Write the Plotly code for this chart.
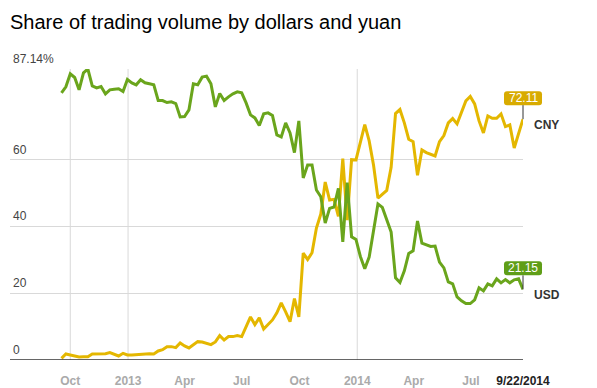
import pandas as pd
import plotly.graph_objects as go

TITLE = "Share of trading volume by dollars and yuan"

# weekly observations, 2012-09-17 .. 2014-09-22
dates = pd.date_range("2012-09-17", periods=106, freq="7D")

usd = [80.0, 81.8, 85.7, 84.6, 80.9, 86.0, 87.14, 82.1, 81.5, 81.9,
       79.7, 80.9, 81.1, 81.2, 80.4, 84.0, 83.0, 82.4, 83.9, 83.0,
       82.7, 82.4, 77.7, 77.7, 77.1, 77.3, 76.8, 72.8, 72.9, 74.9,
       82.7, 82.4, 84.7, 85.0, 82.7, 75.8, 79.8, 77.7, 78.8, 79.7,
       80.3, 80.0, 77.0, 73.4, 72.5, 70.2, 73.7, 74.0, 73.2, 67.4,
       66.8, 71.0, 68.0, 62.1, 71.6, 54.5, 58.4, 58.4, 50.9, 48.9,
       41.0, 45.4, 45.8, 51.4, 35.4, 53.1, 36.9, 36.1, 31.0, 27.3,
       30.8, 38.3, 46.7, 45.7, 42.1, 38.3, 24.6, 23.2, 26.7, 31.9,
       32.7, 41.6, 35.0, 34.4, 34.0, 34.1, 29.3, 27.6, 23.4, 22.8,
       18.9, 17.7, 16.9, 16.9, 18.0, 21.6, 20.7, 22.8, 22.2, 24.3,
       23.1, 24.1, 23.1, 24.0, 24.3, 21.15]

cny = [0.5, 1.8, 1.5, 1.3, 0.9, 1.0, 1.0, 1.8, 1.8, 1.8,
       1.9, 2.2, 1.8, 1.2, 2.0, 1.5, 1.5, 1.6, 1.8, 1.9,
       1.9, 1.8, 2.7, 3.1, 4.0, 4.0, 3.7, 5.1, 4.2, 3.6,
       4.5, 5.5, 5.4, 5.0, 4.6, 5.4, 7.3, 6.0, 7.0, 7.0,
       7.3, 7.0, 10.2, 12.9, 10.6, 12.6, 9.3, 10.8, 12.0, 14.1,
       17.1, 14.4, 11.5, 18.4, 12.9, 32.0, 30.1, 32.1, 39.5, 43.7,
       53.3, 47.9, 48.1, 43.0, 60.3, 41.9, 60.0, 59.9, 65.3, 70.5,
       65.6, 58.3, 48.5, 49.7, 50.8, 57.7, 73.8, 75.0, 71.0, 66.1,
       65.4, 55.3, 62.9, 62.1, 61.7, 61.1, 65.4, 67.2, 71.0, 72.3,
       70.7, 74.3, 77.6, 78.9, 76.7, 71.6, 68.0, 73.1, 72.4, 72.4,
       73.7, 69.9, 70.4, 63.5, 67.8, 72.11]

series_names = ["CNY", "USD"]

x_tick_vals = ["2012-10-01", "2013-01-01", "2013-04-01", "2013-07-01", "2013-10-01",
               "2014-01-01", "2014-04-01", "2014-07-01", "2014-09-22"]
x_tick_text = ["Oct", "2013", "Apr", "Jul", "Oct", "2014", "Apr", "Jul", "9/22/2014"]
vgrid_dates = ["2012-10-01", "2013-01-01", "2014-01-01"]

y_tick_vals = [0, 20, 40, 60, 87.14]
y_tick_text = ["0", "20", "40", "60", "87.14%"]

X_RANGE = ["2012-06-27", "2014-09-22"]
Y_RANGE = [0, 87.14]

FONT = "Liberation Sans, Arial, sans-serif"
YELLOW = "#e4b700"
GREEN = "#6aa51c"
BADGE_YELLOW = "#d8ab00"
BADGE_GREEN = "#5f9e18"

fig = go.Figure()
fig.add_trace(go.Scatter(x=dates, y=cny, mode="lines", name=series_names[0],
                         line=dict(color=YELLOW, width=3), hoverinfo="skip"))
fig.add_trace(go.Scatter(x=dates, y=usd, mode="lines", name=series_names[1],
                         line=dict(color=GREEN, width=3), hoverinfo="skip"))

shapes = []
for d in vgrid_dates:
    shapes.append(dict(type="line", xref="x", yref="paper", x0=d, x1=d, y0=0, y1=1,
                       line=dict(color="#d9d9d9", width=1), layer="below"))
shapes.append(dict(type="line", xref="paper", yref="y", x0=0, x1=1, y0=0, y1=0,
                   line=dict(color="#333333", width=1.5)))

annotations = []
for v, t in zip(y_tick_vals, y_tick_text):
    annotations.append(dict(xref="paper", yref="y", x=0, y=v, text=t, showarrow=False,
                            xanchor="left", yanchor="bottom", xshift=1, yshift=1,
                            font=dict(family=FONT, size=12, color="#444444")))

badge_path = ("M -16,14 L 16,14 Q 19,14 19,17 L 19,25 Q 19,28 16,28 "
              "L -16,28 Q -19,28 -19,25 L -19,17 Q -19,14 -16,14 Z")
for vals, name, col in [(cny, series_names[0], BADGE_YELLOW), (usd, series_names[1], BADGE_GREEN)]:
    lv = vals[-1]
    shapes.append(dict(type="path", xref="paper", yref="y", xsizemode="pixel", ysizemode="pixel",
                       xanchor=1, yanchor=lv, path=badge_path,
                       fillcolor=col, line=dict(width=0)))
    shapes.append(dict(type="line", xref="paper", yref="y", xsizemode="pixel", ysizemode="pixel",
                       xanchor=1, yanchor=lv, x0=0, x1=0, y0=0, y1=14,
                       line=dict(color="#333333", width=1)))
    annotations.append(dict(xref="paper", yref="y", x=1, y=lv, text=f"{lv:.2f}", showarrow=False,
                            xanchor="center", yanchor="middle", yshift=21, xshift=0,
                            font=dict(family=FONT, size=12, color="white")))
    annotations.append(dict(xref="paper", yref="y", x=1, y=lv, text=f"<b>{name}</b>", showarrow=False,
                            xanchor="left", yanchor="middle", xshift=9, yshift=-6,
                            font=dict(family=FONT, size=12, color="#333333")))

tick_labels = [f"<b>{t}</b>" for t in x_tick_text[:-1]] + \
              [f"<b><span style='color:#222222'>{x_tick_text[-1]}</span></b>"]

fig.update_layout(
    width=597, height=388,
    margin=dict(l=10, r=74, t=69, b=28, autoexpand=False),
    paper_bgcolor="white", plot_bgcolor="white",
    showlegend=False,
    title=dict(text=TITLE, x=0, xref="paper", xanchor="left", y=1 - 22 / 388, yanchor="middle",
               font=dict(family=FONT, size=20, color="#000000")),
    xaxis=dict(type="date", range=X_RANGE, tickvals=x_tick_vals, ticktext=tick_labels,
               showgrid=False, zeroline=False, showline=False, ticks="",
               ticklabelstandoff=12, automargin=False,
               tickfont=dict(family=FONT, size=12, color="#aaaaaa")),
    yaxis=dict(range=Y_RANGE, tickvals=y_tick_vals[1:], showticklabels=False,
               showgrid=True, gridcolor="#d9d9d9", gridwidth=1, zeroline=False,
               showline=False, ticks="", automargin=False),
    shapes=shapes,
    annotations=annotations,
)

fig.write_html("out.html", config={"displayModeBar": False, "staticPlot": True},
               post_script="document.body.style.margin='0';document.body.style.overflow='hidden';")
